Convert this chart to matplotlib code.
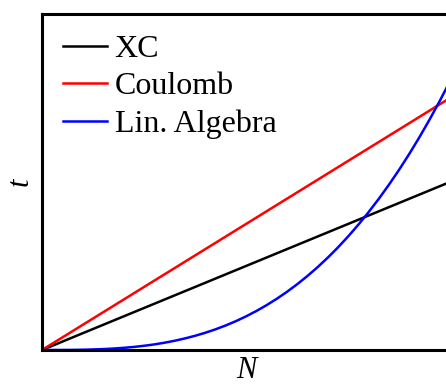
import matplotlib
matplotlib.use("Agg")
import matplotlib.pyplot as plt

plt.rcParams['font.family'] = ['Liberation Serif', 'DejaVu Serif']

# Problem size (arbitrary units)
n_values = [0.0, 0.025, 0.05, 0.075, 0.1, 0.125, 0.15, 0.175, 0.2, 0.225,
            0.25, 0.275, 0.3, 0.325, 0.35, 0.375, 0.4, 0.425, 0.45, 0.475,
            0.5, 0.525, 0.55, 0.575, 0.6, 0.625, 0.65, 0.675, 0.7, 0.725,
            0.75, 0.775, 0.8, 0.825, 0.85, 0.875, 0.9, 0.925, 0.95, 0.975,
            1.0]

# Cost of each part of the calculation
xc_n = [0.0, 1.0]
xc_t = [0.0, 0.5]
coulomb_n = [0.0, 1.0]
coulomb_t = [0.0, 0.75]
linalg_t = [0.0, 0.0, 0.0001, 0.0003, 0.0008, 0.0016, 0.0027, 0.0043,
            0.0064, 0.0091, 0.0125, 0.0166, 0.0216, 0.0275, 0.0343, 0.0422,
            0.0512, 0.0614, 0.0729, 0.0857, 0.1, 0.1158, 0.1331, 0.1521,
            0.1728, 0.1953, 0.2197, 0.2460, 0.2744, 0.3048, 0.3375, 0.3724,
            0.4096, 0.4492, 0.4913, 0.5359, 0.5832, 0.6332, 0.6859, 0.7415,
            0.8]

fig = plt.figure(figsize=(4.46, 3.85), dpi=100)
ax = fig.add_axes([42 / 446, 35 / 385, 408 / 446, 336 / 385])

ax.plot(xc_n, xc_t, color='black', lw=1.8, label='XC')
ax.plot(coulomb_n, coulomb_t, color='red', lw=1.8, label='Coulomb')
ax.plot(n_values, linalg_t, color='blue', lw=1.8, label='Lin. Algebra')

ax.set_xlim(0, 1)
ax.set_ylim(0, 1)
ax.set_xticks([])
ax.set_yticks([])
for s in ax.spines.values():
    s.set_linewidth(2.2)

ax.set_xlabel('N', fontsize=22, style='italic', labelpad=4)
ax.set_ylabel('t', fontsize=22, style='italic', labelpad=5)

ax.legend(loc='upper left', frameon=False, fontsize=23,
          handlelength=1.4, handletextpad=0.22, labelspacing=0.25,
          borderaxespad=0.25)

plt.savefig('out.png', dpi=100)
